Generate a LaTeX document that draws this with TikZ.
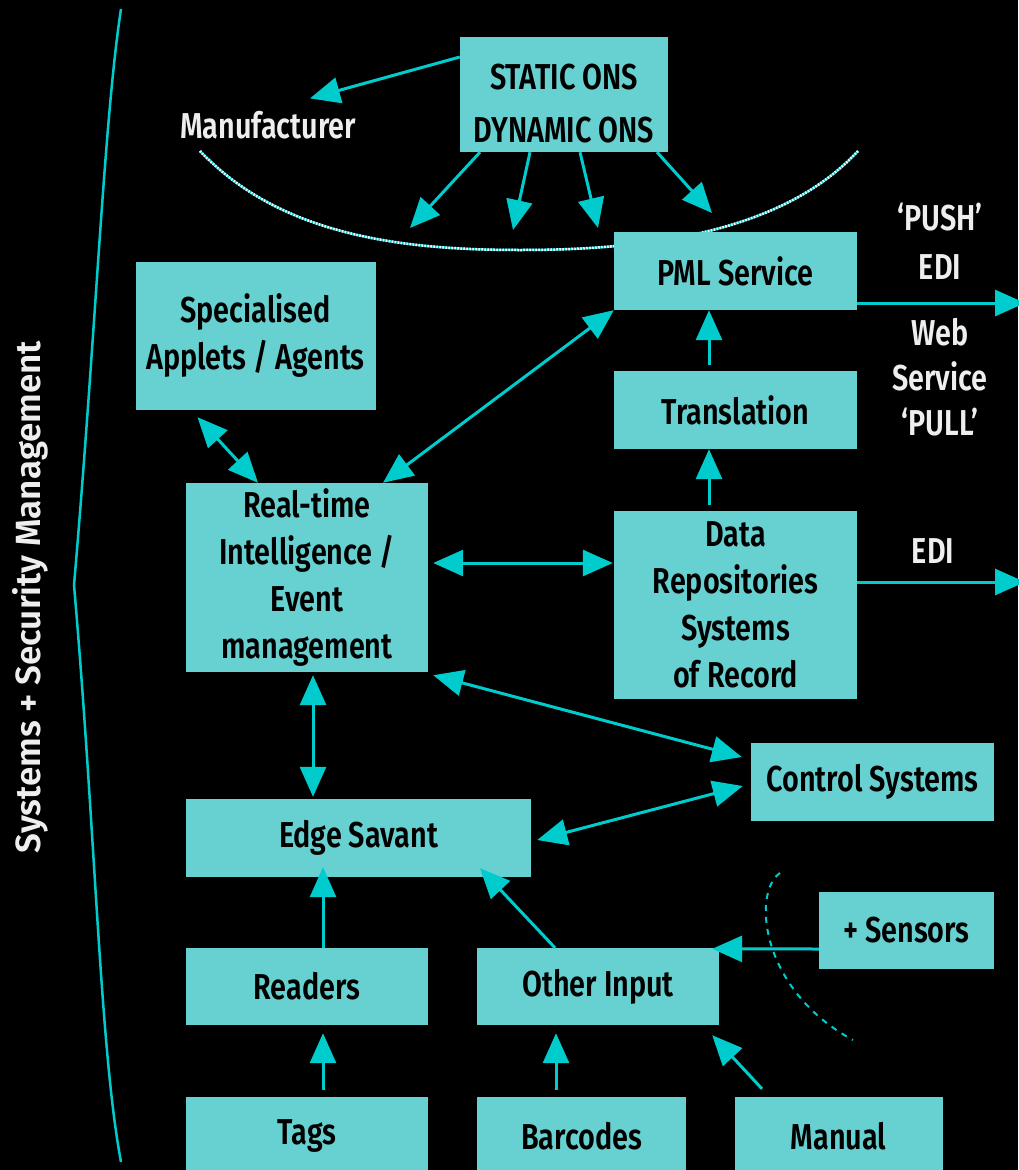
\documentclass[tikz,border=0pt]{standalone}
\usepackage{fontspec}
\setmainfont[FakeStretch=0.8, BoldFont={Fira Sans SemiBold}]{Fira Sans}
\newfontfamily\sidefont[BoldFont={Fira Sans SemiBold}]{Fira Sans}
\usetikzlibrary{arrows.meta}

\definecolor{boxfill}{RGB}{102,209,208}
\definecolor{linkcol}{RGB}{0,204,206}
\definecolor{labelwhite}{RGB}{238,238,238}

\tikzset{
  box/.style={fill=boxfill, inner sep=0pt, align=center, font=\bfseries\fontsize{36}{47}\selectfont},
  lbl/.style={text=labelwhite, inner sep=2pt, align=center, font=\bfseries\fontsize{36}{47}\selectfont},
  link/.style={draw=linkcol, line width=3pt, -{Triangle[length=30pt,width=26pt]}},
  both/.style={link, {Triangle[length=30pt,width=26pt]}-{Triangle[length=30pt,width=26pt]}},
}

\begin{document}
\begin{tikzpicture}[x=1pt,y=-1pt]
  \fill[black] (0,0) rectangle (1018,1170);
  \useasboundingbox (0,0) rectangle (1018,1170);

  % Bracket and arcs
  \draw[linkcol, line width=2.5pt] (121,9) .. controls (104,120) and (96,330) .. (74,585)
    .. controls (96,840) and (100,1050) .. (121,1162);
  \draw[linkcol, line width=2.5pt, postaction={draw=white, dash pattern=on 1.5pt off 1.5pt}]
    (200,151) .. controls (280,235) and (400,250) .. (520,250)
    .. controls (640,250) and (780,235) .. (858,151);
  \draw[linkcol, line width=2pt, dash pattern=on 6pt off 6pt]
    (780,873) .. controls (752,892) and (760,990) .. (853,1040);

  \node[text=labelwhite, rotate=90, font=\sidefont\bfseries\fontsize{35}{40}\selectfont] (sysmgmt) at (30,597) {Systems + Security Management};

  % Boxes
  \node[box, minimum width=208pt, minimum height=115pt] (ons) at (564,94.5) {\rule{0pt}{44pt}STATIC ONS\\[6pt]DYNAMIC ONS};
  \node[box, minimum width=243pt, minimum height=78pt] (pml) at (735.5,271) {PML Service};
  \node[box, minimum width=243pt, minimum height=78pt] (trans) at (735.5,410) {Translation};
  \node[box, minimum width=243pt, minimum height=188pt] (data) at (735.5,605) {Data\\Repositories\\Systems\\of Record};
  \node[box, minimum width=240pt, minimum height=148pt] (spec) at (255.5,336) {Specialised\\Applets / Agents};
  \node[box, minimum width=242pt, minimum height=189pt] (rt) at (307,577.5) {Real-time\\Intelligence /\\Event\\management};
  \node[box, minimum width=243pt, minimum height=78pt] (ctrl) at (872.5,782) {Control Systems};
  \node[box, minimum width=345pt, minimum height=78pt] (edge) at (358.5,838) {Edge Savant};
  \node[box, minimum width=242pt, minimum height=77pt] (readers) at (307,986.5) {Readers};
  \node[box, minimum width=242pt, minimum height=77pt] (other) at (598,986.5) {Other Input};
  \node[box, minimum width=175pt, minimum height=77pt] (sensors) at (906.5,930.5) {+ Sensors};
  \node[box, minimum width=242pt, minimum height=78pt] (tags) at (307,1136) {Tags};
  \node[box, minimum width=209pt, minimum height=78pt] (barcodes) at (581.5,1136) {Barcodes};
  \node[box, minimum width=208pt, minimum height=78pt] (manual) at (838.5,1136) {Manual};

  % Labels
  \node[lbl] (man) at (268,125) {Manufacturer};
  \node[lbl, font=\bfseries\fontsize{36}{49}\selectfont] (push) at (940,241) {‘PUSH’\\EDI};
  \node[lbl, font=\bfseries\fontsize{36}{45}\selectfont] (pull) at (940,377) {Web\\Service\\‘PULL’};
  \node[lbl] (edi) at (933,551.5) {EDI};

  % ONS lookups
  \draw[link] ([yshift=37.5pt]ons.west) -- ([xshift=42pt,yshift=10.5pt]man.north);
  \foreach \dx/\tx/\ty [count=\i] in {-84/410/228, -34/513/230, 16/598/228, 93/712/213} {
    \coordinate (arc\i) at (\tx,\ty);
    \draw[link] ([xshift=\dx pt]ons.south) -- (arc\i);
  }

  % PML side
  \draw[both] ([xshift=76pt]rt.north) -- (pml.south west);
  \draw[link] ([xshift=-26.5pt,yshift=6pt]trans.north) -- ([xshift=-26.5pt]pml.south);
  \draw[link] ([xshift=-26.5pt,yshift=6pt]data.north) -- ([xshift=-26.5pt]trans.south);
  \coordinate (pushend) at (1025,303);
  \coordinate (ediend) at (1025,582);
  \draw[link] ([yshift=-32pt]pml.east) -- (pushend);
  \draw[link] ([yshift=23pt]data.east) -- (ediend);

  % Event management links
  \draw[both] ([xshift=5pt,yshift=14.5pt]rt.east) -- ([xshift=-1pt,yshift=42pt]data.west);
  \draw[both] ([xshift=-58pt,yshift=-7pt]spec.south) -- ([xshift=-49pt]rt.north);
  \draw[both] ([xshift=5pt,yshift=-3pt]rt.south east) -- ([xshift=-9pt,yshift=25pt]ctrl.west);
  \draw[both] ([xshift=6pt,yshift=-2pt]edge.east) -- ([xshift=-8pt,yshift=-4pt]ctrl.west);
  \draw[both] ([xshift=6pt,yshift=-3pt]rt.south) -- ([xshift=-45.5pt,yshift=2pt]edge.north);

  % Inputs
  \draw[link] ([xshift=16pt]readers.north) -- ([xshift=-35.5pt,yshift=10pt]edge.south);
  \draw[link] ([xshift=16pt,yshift=7pt]tags.north) -- ([xshift=16pt,yshift=-8pt]readers.south);
  \draw[link] ([xshift=-43pt]other.north) -- ([xshift=121.5pt,yshift=9pt]edge.south);
  \draw[link] ([yshift=-18.5pt]sensors.west) -- ([xshift=-7pt,yshift=-1pt]other.north east);
  \draw[link] ([xshift=-25.5pt,yshift=7pt]barcodes.north) -- ([xshift=-42pt,yshift=-8pt]other.south);
  \draw[link] ([xshift=-76.5pt,yshift=8pt]manual.north) -- ([xshift=-7pt,yshift=-10pt]other.south east);
\end{tikzpicture}
\end{document}
